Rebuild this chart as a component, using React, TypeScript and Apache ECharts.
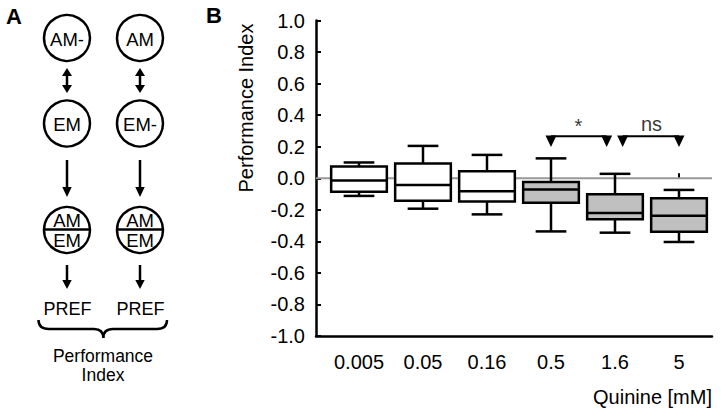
import React, { useEffect, useRef } from "react";
import * as echarts from "echarts";

const categories = ["0.005", "0.05", "0.16", "0.5", "1.6", "5"];
const whiskerLow = [-0.112, -0.193, -0.229, -0.337, -0.345, -0.404];
const quartile1 = [-0.085, -0.142, -0.148, -0.155, -0.26, -0.339];
const median = [-0.015, -0.043, -0.083, -0.072, -0.22, -0.237];
const quartile3 = [0.074, 0.093, 0.044, -0.024, -0.102, -0.127];
const whiskerHigh = [0.1, 0.205, 0.148, 0.126, 0.028, -0.074];
const boxFills = ["#ffffff", "#ffffff", "#ffffff", "#c0c0c0", "#c0c0c0", "#c0c0c0"];

const bracketY = 0.267;
const bracketStar = [[3, bracketY], [3.87, bracketY]];
const bracketNs = [[4.12, bracketY], [5, bracketY]];
const sigLabels = [
  [3.43, 0.33, "*"],
  [4.57, 0.345, "ns"],
];

const topLabels = ["AM-", "AM"];
const midLabels = ["EM", "EM-"];

const FONT = "'Liberation Sans', Arial, Helvetica, sans-serif";

function panelA() {
  const els: any[] = [];
  const cols = [67, 140];
  const r = 23;
  const lw = 2.5;
  const txt = (x: number, y: number, text: string, size = 18.5, weight = "normal") => ({
    type: "text",
    x,
    y,
    style: {
      text,
      fill: "#000",
      font: `${weight} ${size}px ${FONT}`,
      align: "center",
      verticalAlign: "middle",
    },
  });
  const line = (x1: number, y1: number, x2: number, y2: number, w = lw) => ({
    type: "line",
    shape: { x1, y1, x2, y2 },
    style: { stroke: "#000", lineWidth: w },
  });
  const tri = (pts: number[][]) => ({
    type: "polygon",
    shape: { points: pts },
    style: { fill: "#000" },
  });
  cols.forEach((cx, i) => {
    els.push({ type: "circle", shape: { cx, cy: 38, r }, style: { fill: "#fff", stroke: "#000", lineWidth: lw } });
    els.push(txt(cx, 39, topLabels[i]));
    els.push(line(cx, 74, cx, 86));
    els.push(tri([[cx, 68], [cx - 5, 76], [cx + 5, 76]]));
    els.push(tri([[cx, 93], [cx - 5, 85], [cx + 5, 85]]));
    els.push({ type: "circle", shape: { cx, cy: 123.5, r }, style: { fill: "#fff", stroke: "#000", lineWidth: lw } });
    els.push(txt(cx, 124, midLabels[i]));
    els.push(line(cx, 160, cx, 189));
    els.push(tri([[cx, 197], [cx - 4.7, 187], [cx + 4.7, 187]]));
    els.push({ type: "circle", shape: { cx, cy: 230, r }, style: { fill: "#fff", stroke: "#000", lineWidth: lw } });
    els.push(line(cx - r, 229.5, cx + r, 229.5));
    els.push(txt(cx, 220.5, "AM"));
    els.push(txt(cx, 240, "EM"));
    els.push(line(cx, 265, cx, 282));
    els.push(tri([[cx, 289], [cx - 4.7, 280], [cx + 4.7, 280]]));
    els.push(txt(cx + 0.5, 309, "PREF", 18));
  });
  const by = 329;
  const bs = { stroke: "#000", lineWidth: 2.5, fill: null };
  els.push({ type: "bezierCurve", shape: { x1: 38.5, y1: 320, cpx1: 38.5, cpy1: by, x2: 49, y2: by }, style: bs });
  els.push(line(49, by, 94, by));
  els.push({ type: "bezierCurve", shape: { x1: 94, y1: by, cpx1: 103.3, cpy1: by, x2: 103.3, y2: 338 }, style: bs });
  els.push({ type: "bezierCurve", shape: { x1: 103.3, y1: 338, cpx1: 103.3, cpy1: by, x2: 113, y2: by }, style: bs });
  els.push(line(113, by, 157, by));
  els.push({ type: "bezierCurve", shape: { x1: 157, y1: by, cpx1: 167, cpy1: by, x2: 167, y2: 320 }, style: bs });
  els.push(txt(103, 356, "Performance", 17.5));
  els.push(txt(103, 375, "Index", 17.5));
  els.push(txt(14, 16.5, "A", 22, "bold"));
  els.push(txt(214, 15.5, "B", 22, "bold"));
  els.push({
    type: "text",
    x: 246,
    y: 108,
    rotation: Math.PI / 2,
    style: { text: "Performance Index", fill: "#000", font: `20px ${FONT}`, align: "center", verticalAlign: "middle" },
  });
  els.push({
    type: "text",
    x: 712,
    y: 397,
    style: { text: "Quinine [mM]", fill: "#000", font: `20px ${FONT}`, align: "right", verticalAlign: "middle" },
  });
  return els;
}

export default function App() {
  const ref = useRef<HTMLDivElement>(null);
  useEffect(() => {
    if (!ref.current) return;
    const chart = echarts.init(ref.current, null, { renderer: "svg" });
    const boxData = categories.map((_, i) => [i, whiskerLow[i], quartile1[i], median[i], quartile3[i], whiskerHigh[i]]);
    const top = 20.5;
    const bottom = 81;
    const option: any = {
      animation: false,
      backgroundColor: "#ffffff",
      textStyle: { fontFamily: FONT },
      grid: [
        { left: 327, right: 10, top, bottom },
        { left: 316, right: 9, top, bottom },
      ],
      xAxis: [
        {
          type: "category",
          gridIndex: 0,
          data: categories,
          axisLine: { show: false },
          axisTick: {
            show: true,
            inside: true,
            alignWithLabel: true,
            interval: 0,
            length: 5,
            lineStyle: { color: "#000", width: 2 },
          },
          axisLabel: { color: "#000", fontSize: 20, margin: 16, fontFamily: FONT, interval: 0, hideOverlap: false },
          splitLine: { show: false },
        },
        {
          type: "value",
          gridIndex: 1,
          min: -0.672,
          max: 5.516,
          axisLine: { show: true, onZero: false, lineStyle: { color: "#000", width: 2.5 } },
          axisTick: { show: false },
          axisLabel: { show: false },
          splitLine: { show: false },
        },
      ],
      yAxis: [
        {
          type: "value",
          gridIndex: 0,
          min: -1,
          max: 1,
          interval: 0.2,
          axisLine: { show: false },
          axisTick: { show: false },
          axisLabel: { show: false },
          splitLine: { show: false },
        },
        {
          type: "value",
          gridIndex: 1,
          min: -1,
          max: 1,
          interval: 0.2,
          axisLine: { show: true, onZero: false, lineStyle: { color: "#000", width: 2.5 } },
          axisTick: { show: true, inside: true, length: 5, lineStyle: { color: "#000", width: 2 } },
          axisLabel: {
            color: "#000",
            fontSize: 20,
            margin: 11,
            fontFamily: FONT,
            formatter: (v: number) => v.toFixed(1),
          },
          splitLine: { show: false },
        },
      ],
      series: [
        {
          type: "line",
          xAxisIndex: 1,
          yAxisIndex: 1,
          data: [[-0.672, 0], [5.516, 0]],
          symbol: "none",
          lineStyle: { color: "#999999", width: 2 },
          z: 1,
          silent: true,
        },
        {
          type: "custom",
          xAxisIndex: 0,
          yAxisIndex: 0,
          data: boxData,
          encode: { x: 0, y: [1, 2, 3, 4, 5] },
          z: 3,
          renderItem: (params: any, api: any) => {
            const idx = api.value(0);
            const band = api.size([1, 0])[0];
            const boxW = band * 0.87;
            const capW = band * 0.48;
            const pLo = api.coord([idx, api.value(1)]);
            const pQ1 = api.coord([idx, api.value(2)]);
            const pMed = api.coord([idx, api.value(3)]);
            const pQ3 = api.coord([idx, api.value(4)]);
            const pHi = api.coord([idx, api.value(5)]);
            const cx = pLo[0];
            const st = { stroke: "#000", lineWidth: 2.5 };
            return {
              type: "group",
              children: [
                { type: "line", shape: { x1: cx, y1: pQ3[1], x2: cx, y2: pHi[1] }, style: st },
                { type: "line", shape: { x1: cx, y1: pQ1[1], x2: cx, y2: pLo[1] }, style: st },
                { type: "line", shape: { x1: cx - capW / 2, y1: pHi[1], x2: cx + capW / 2, y2: pHi[1] }, style: st },
                { type: "line", shape: { x1: cx - capW / 2, y1: pLo[1], x2: cx + capW / 2, y2: pLo[1] }, style: st },
                {
                  type: "rect",
                  shape: { x: cx - boxW / 2, y: pQ3[1], width: boxW, height: pQ1[1] - pQ3[1] },
                  style: { fill: boxFills[params.dataIndex], stroke: "#000", lineWidth: 2.5 },
                },
                { type: "line", shape: { x1: cx - boxW / 2, y1: pMed[1], x2: cx + boxW / 2, y2: pMed[1] }, style: st },
              ],
            };
          },
        },
        ...[bracketStar, bracketNs].map((d) => ({
          type: "line",
          xAxisIndex: 1,
          yAxisIndex: 1,
          data: d,
          symbol: "triangle",
          symbolRotate: 180,
          symbolSize: [11, 11.5],
          symbolOffset: [0, 5],
          showSymbol: true,
          itemStyle: { color: "#000" },
          lineStyle: { color: "#000", width: 2 },
          z: 4,
          silent: true,
        })),
        {
          type: "scatter",
          xAxisIndex: 1,
          yAxisIndex: 1,
          data: sigLabels,
          symbol: "circle",
          symbolSize: 1,
          itemStyle: { color: "rgba(0,0,0,0)" },
          label: {
            show: true,
            position: "inside",
            formatter: (p: any) => p.data[2],
            color: "#000",
            fontSize: 20,
            fontFamily: FONT,
          },
          z: 5,
          silent: true,
        },
      ],
      graphic: panelA(),
    };
    chart.setOption(option);
    return () => chart.dispose();
  }, []);
  return (
    <div
      ref={ref}
      style={{ position: "absolute", left: 0, top: 0, width: 721, height: 417, background: "#fff" }}
    />
  );
}
